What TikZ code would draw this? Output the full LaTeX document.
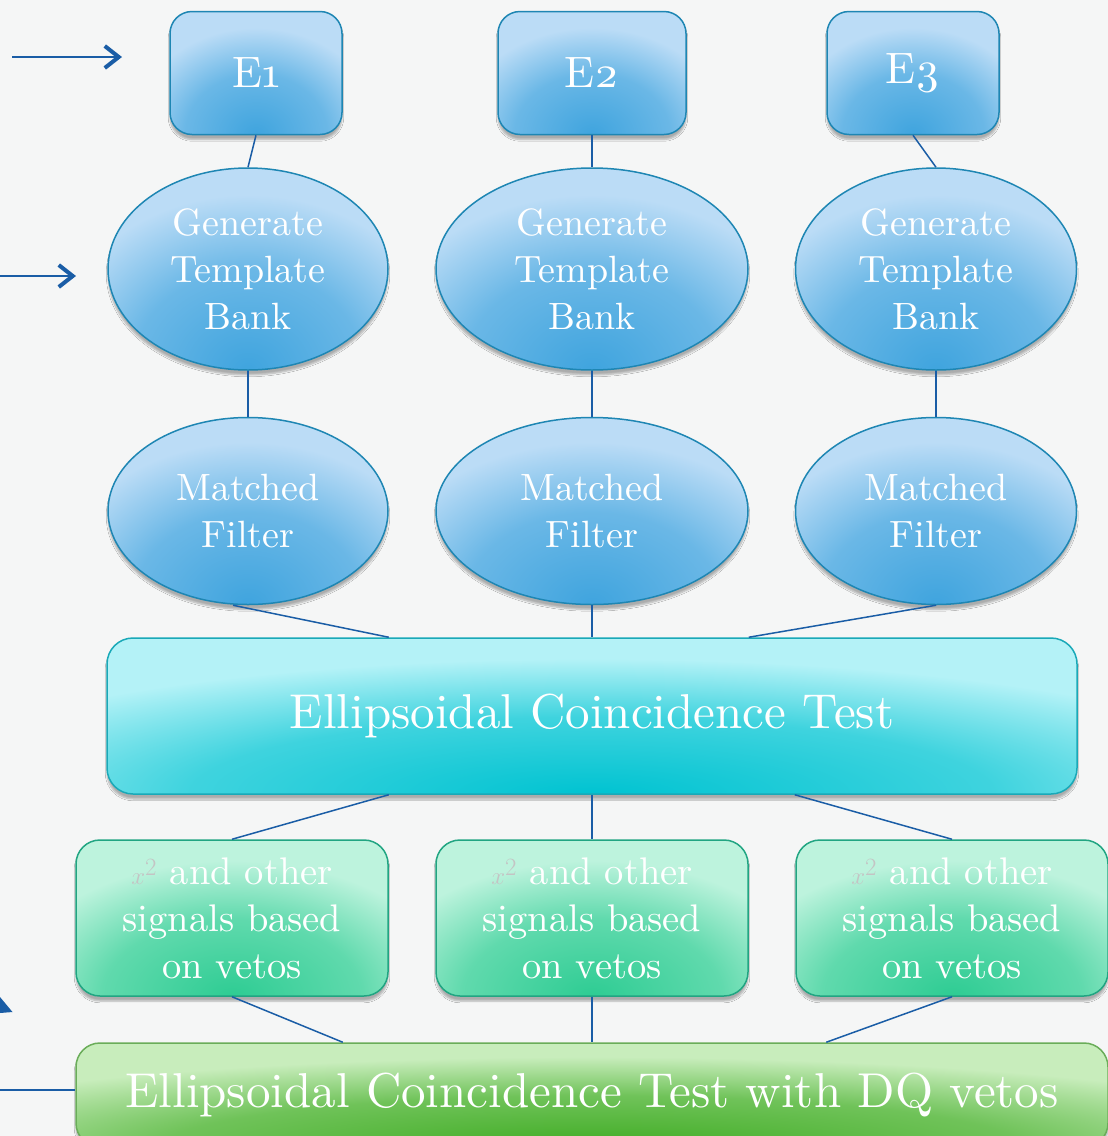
\documentclass[tikz,border=0pt]{standalone}
\usepackage{fontspec}
\setmainfont{lmroman10-regular}[Extension=.otf]
\usetikzlibrary{shapes.geometric,shadows.blur,arrows.meta,calc}
\definecolor{bgcol}{HTML}{F5F6F6}
\definecolor{linecol}{HTML}{1A5DA6}
\definecolor{blueedge}{HTML}{1E86B3}
\definecolor{bluelight}{HTML}{BBDCF6}
\definecolor{blueglow}{HTML}{3FA4DE}
\definecolor{cyanedge}{HTML}{19A9B8}
\definecolor{cyanlight}{HTML}{B4F2F7}
\definecolor{cyanglow}{HTML}{00C3D1}
\definecolor{mintedge}{HTML}{21A582}
\definecolor{mintlight}{HTML}{BDF3DD}
\definecolor{mintglow}{HTML}{2ECC93}
\definecolor{greenedge}{HTML}{6AAD59}
\definecolor{greenlight}{HTML}{C8EDBC}
\definecolor{greenglow}{HTML}{40AC24}
\definecolor{chigray}{HTML}{C4C4C4}
\colorlet{glowin}{blueglow}
\colorlet{glowout}{bluelight}
\pgfdeclareradialshading[glowin,glowout]{glowshade}{\pgfpoint{0bp}{0bp}}{%
	color(0bp)=(glowin); color(8bp)=(glowin!65!glowout); color(14bp)=(glowout); color(50bp)=(glowout)}
\begin{document}
\begin{tikzpicture}[x=1pt,y=-1pt,
	glow/.style 2 args={path picture={
		\colorlet{glowin}{#1}\colorlet{glowout}{#2}
		\shade[shading=glowshade]
			let \p1=(path picture bounding box.south west),
			    \p2=(path picture bounding box.north east) in
			(path picture bounding box.south) ellipse ({1.3*(\x2-\x1)} and {1.55*(\y2-\y1)});}},
	boxcommon/.style={line width=1.5pt, inner sep=0pt, align=center, text=white,
		blur shadow={shadow xshift=0pt, shadow yshift=-5pt, shadow opacity=30, shadow blur steps=6}},
	ebox/.style={boxcommon, draw=blueedge, fill=bluelight, glow={blueglow}{bluelight},
		rounded corners=22pt, minimum width=172pt, minimum height=123pt, font=\fontsize{44}{50}\selectfont},
	oval/.style={boxcommon, ellipse, draw=blueedge, fill=bluelight, glow={blueglow}{bluelight},
		minimum width=280pt, font=\fontsize{38}{47}\selectfont},
	ectbox/.style={boxcommon, draw=cyanedge, fill=cyanlight, glow={cyanglow}{cyanlight},
		rounded corners=26pt, minimum width=970pt, minimum height=156pt, font=\fontsize{49}{56}\selectfont},
	chibox/.style={boxcommon, draw=mintedge, fill=mintlight, glow={mintglow}{mintlight},
		rounded corners=24pt, minimum width=312pt, minimum height=156pt, font=\fontsize{38.5}{47}\selectfont},
	dqbox/.style={boxcommon, draw=greenedge, fill=greenlight, glow={greenglow}{greenlight},
		rounded corners=24pt, minimum width=1032pt, minimum height=104pt, font=\fontsize{49}{56}\selectfont},
	link/.style={draw=linecol, line width=1.5pt},
]
	\useasboundingbox (0,0) rectangle (1108,1136);
	\clip (0,0) rectangle (1108,1136);
	\fill[bgcol] (0,0) rectangle (1108,1136);

	% detectors
	\node[ebox] (e1) at (256,73) {E\oldstylenums{1}};
	\node[ebox, minimum width=188pt] (e2) at (592,73) {E\oldstylenums{2}};
	\node[ebox] (e3) at (913,73) {E\oldstylenums{3}};

	% template banks
	\node[oval, minimum height=202pt] (gen1) at (248,269) {Generate\\Template\\Bank};
	\node[oval, minimum height=202pt, minimum width=312pt] (gen2) at (592,269) {Generate\\Template\\Bank};
	\node[oval, minimum height=202pt, minimum width=281pt] (gen3) at (936,269) {Generate\\Template\\Bank};

	% matched filters
	\node[oval, minimum height=187pt] (match1) at (248,511) {Matched\\Filter};
	\node[oval, minimum height=187pt, minimum width=312pt] (match2) at (592,511) {Matched\\Filter};
	\node[oval, minimum height=187pt, minimum width=281pt] (match3) at (936,511) {Matched\\Filter};

	\node[ectbox] (ect) at (592,716) {Ellipsoidal Coincidence Test};

	% signal based vetos
	\node[chibox] (chi1) at (232,918) {{\color{chigray}$x^{2}$} and other\\signals based\\on vetos};
	\node[chibox] (chi2) at (592,918) {{\color{chigray}$x^{2}$} and other\\signals based\\on vetos};
	\node[chibox] (chi3) at (952,918) {{\color{chigray}$x^{2}$} and other\\signals based\\on vetos};

	\node[dqbox] (dq) at (592,1095) {Ellipsoidal Coincidence Test with DQ vetos};

	% connectors
	\draw[link] (e1.south) -- (gen1.north);
	\draw[link] (e2.south) -- (gen2.north);
	\draw[link] (e3.south) -- (gen3.north);
	\draw[link] (gen1.south) -- (match1.north);
	\draw[link] (gen2.south) -- (match2.north);
	\draw[link] (gen3.south) -- (match3.north);
	\draw[link] ([xshift=-15pt]match1.south) -- (ect.north -| gen1.east);
	\draw[link] (match2.south) -- (ect.north);
	\draw[link] (match3.south) -- (ect.north -| gen2.east);
	\draw[link] (ect.south -| gen1.east) -- (chi1.north);
	\draw[link] (ect.south) -- (chi2.north);
	\draw[link] (ect.south -| gen3.west) -- (chi3.north);
	\draw[link] (chi1.south) -- (dq.north -| e1.east);
	\draw[link] (chi2.south) -- (dq.north);
	\draw[link] (chi3.south) -- (dq.north -| e3.west);

	% inputs from the left
	\coordinate (in1) at (12,57);
	\coordinate (in1end) at (122,57);
	\coordinate (in2) at (0,276);
	\coordinate (in2end) at (76,276);
	\coordinate (in3) at (0,1090);
	\draw[link, -{Straight Barb[length=14pt,width=22pt,line width=4pt]}] (in1) -- (in1end);
	\draw[link, -{Straight Barb[length=14pt,width=22pt,line width=4pt]}] (in2) -- (in2end);
	\draw[link] (in3) -- (in3 -| dq.west);
	\fill[linecol] (0,997) -- (12.5,1012) -- (0,1013) -- cycle;
\end{tikzpicture}
\end{document}
